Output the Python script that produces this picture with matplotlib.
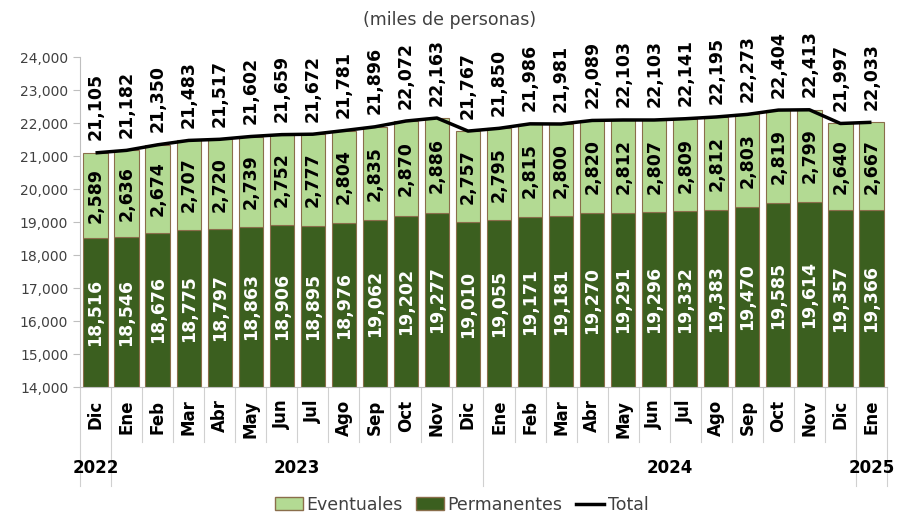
import matplotlib
matplotlib.use("Agg")
import matplotlib.pyplot as plt
from matplotlib.lines import Line2D
from matplotlib.patches import Patch
import numpy as np

months = ["Dic", "Ene", "Feb", "Mar", "Abr", "May", "Jun", "Jul", "Ago", "Sep", "Oct", "Nov",
          "Dic", "Ene", "Feb", "Mar", "Abr", "May", "Jun", "Jul", "Ago", "Sep", "Oct", "Nov",
          "Dic", "Ene"]
permanentes = [18516, 18546, 18676, 18775, 18797, 18863, 18906, 18895, 18976, 19062, 19202, 19277,
               19010, 19055, 19171, 19181, 19270, 19291, 19296, 19332, 19383, 19470, 19585, 19614,
               19357, 19366]
eventuales = [2589, 2636, 2674, 2707, 2720, 2739, 2752, 2777, 2804, 2835, 2870, 2886,
              2757, 2795, 2815, 2800, 2820, 2812, 2807, 2809, 2812, 2803, 2819, 2799,
              2640, 2667]
total = [21105, 21182, 21350, 21483, 21517, 21602, 21659, 21672, 21781, 21896, 22072, 22163,
         21767, 21850, 21986, 21981, 22089, 22103, 22103, 22141, 22195, 22273, 22404, 22413,
         21997, 22033]
years = ["2022", "2023", "2024", "2025"]
year_spans = [(0, 0), (1, 12), (13, 24), (25, 25)]

DARK = "#3B5F1F"
LIGHT = "#B3DA93"
EDGE = "#8A6E4B"
GRAY = "#404040"

plt.rcParams["font.family"] = "DejaVu Sans"

fig = plt.figure(figsize=(9.05, 5.16), dpi=100)
ax = fig.add_axes([0.0884, 0.25, 0.8917, 0.6386])

x = np.arange(len(months))
ax.bar(x, permanentes, width=0.78, bottom=0, color=DARK, edgecolor=EDGE, linewidth=0.8)
ax.bar(x, eventuales, width=0.78, bottom=permanentes, color=LIGHT, edgecolor=EDGE, linewidth=0.8)
ax.plot(x, total, color="black", linewidth=2.5, solid_capstyle="butt")

for xi, p, e, t in zip(x, permanentes, eventuales, total):
    ax.text(xi, (14000 + p) / 2, f"{p:,}", rotation=90, ha="center", va="center",
            color="white", fontsize=12.5, fontweight="bold")
    ax.text(xi, p + e / 2, f"{e:,}", rotation=90, ha="center", va="center",
            color="black", fontsize=12.5, fontweight="bold")
    ax.annotate(f"{t:,}", (xi, t), xytext=(0, 9), textcoords="offset points",
                rotation=90, ha="center", va="bottom", color="black", fontsize=12.5,
                fontweight="bold")

ax.set_ylim(14000, 24000)
ax.set_xlim(-0.5, len(months) - 0.5)
ax.set_yticks(np.arange(14000, 24001, 1000))
ax.yaxis.set_major_formatter(matplotlib.ticker.FuncFormatter(lambda v, _: f"{int(v):,}"))
ax.tick_params(axis="y", colors="#BFBFBF", labelcolor=GRAY, labelsize=10, length=5, width=0.8)
ax.set_xticks(x)
ax.set_xticklabels(months, rotation=90, fontsize=12, fontweight="bold", color="black")
ax.tick_params(axis="x", length=0, pad=9)

for side in ["top", "right"]:
    ax.spines[side].set_visible(False)
ax.spines["left"].set_color("#BFBFBF")
ax.spines["bottom"].set_color("#BFBFBF")

# category separators below the axis
trans = matplotlib.transforms.blended_transform_factory(ax.transData, ax.transAxes)
long_lines = {-0.5, 0.5, 12.5, 24.5, 25.5}
for b in np.arange(-0.5, len(months), 1.0):
    y_end = -0.30 if b in long_lines else -0.168
    ax.plot([b, b], [0, y_end], color="#D0D0D0", linewidth=0.8, transform=trans, clip_on=False)

for label, (a, b) in zip(years, year_spans):
    ax.text((a + b) / 2, -0.245, label, transform=trans, ha="center", va="center",
            fontsize=12, fontweight="bold", color="black")

fig.text(0.497, 0.962, "(miles de personas)", ha="center", va="center", fontsize=12.5, color=GRAY)

handles = [Patch(facecolor=LIGHT, edgecolor=EDGE, label="Eventuales"),
           Patch(facecolor=DARK, edgecolor=EDGE, label="Permanentes"),
           Line2D([0], [0], color="black", linewidth=2.5, label="Total")]
fig.legend(handles=handles, loc="center", bbox_to_anchor=(0.51, 0.022), ncol=3, frameon=False,
           fontsize=12.5, handlelength=1.6, handleheight=0.7, handletextpad=0.2,
           columnspacing=0.8, labelcolor=GRAY)

fig.savefig("out.png", dpi=100)
